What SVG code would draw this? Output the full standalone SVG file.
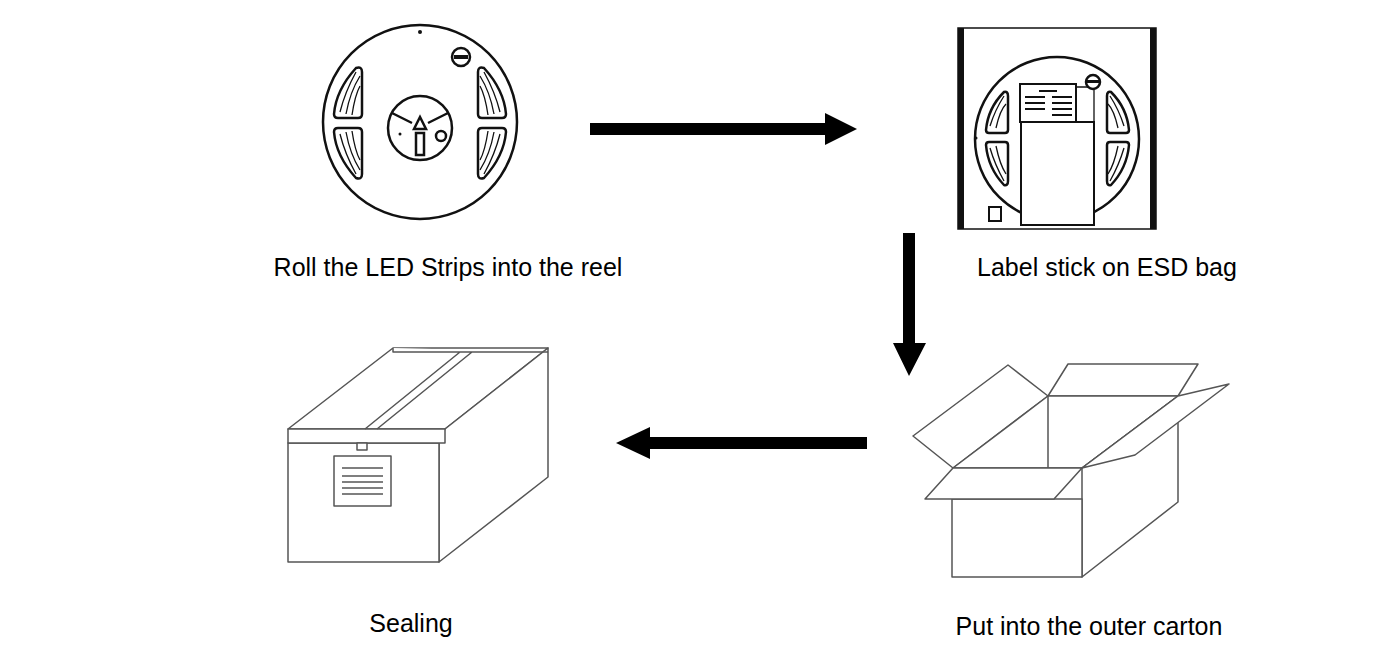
<svg xmlns="http://www.w3.org/2000/svg" width="1398" height="655" viewBox="0 0 1398 655">
<style>
.l{fill:none;stroke:#111;stroke-width:2.5}
.g{fill:#fff;stroke:#555;stroke-width:1.5;stroke-linejoin:round}
.t{font-family:"Liberation Sans",Arial,sans-serif;font-size:25px;fill:#000;text-anchor:middle}
.w{fill:#fff;stroke:#111;stroke-width:2.5}
.s{fill:none;stroke:#111;stroke-width:1.3}
</style>
<rect width="1398" height="655" fill="#fff"/>
<g id="reel">
<circle cx="420" cy="122" r="97" class="l"/>
<circle cx="420" cy="32" r="2" fill="#111"/>
<circle cx="461" cy="57" r="9" class="l"/>
<rect x="454" y="55" width="14" height="4" fill="#111"/>
<path class="w" d="M334,114 Q336,90 356,68 Q362,66 362,72 V114 Q362,118 358,118 H338 Q334,118 334,114 Z"/>
<path class="s" d="M340,112 Q345,92 356,72 M346,114 Q350,92 360,76 M352,115 Q355,95 360,86"/>
<path class="w" d="M334,132 Q336,156 356,178 Q362,180 362,174 V132 Q362,128 358,128 H338 Q334,128 334,132 Z"/>
<path class="s" d="M340,134 Q345,154 356,174 M346,132 Q350,154 360,170 M352,131 Q355,151 360,160"/>
<path class="w" d="M506,114 Q504,90 484,68 Q478,66 478,72 V114 Q478,118 482,118 H502 Q506,118 506,114 Z"/>
<path class="s" d="M500,112 Q495,92 484,72 M494,114 Q490,92 480,76 M488,115 Q485,95 480,86"/>
<path class="w" d="M506,132 Q504,156 484,178 Q478,180 478,174 V132 Q478,128 482,128 H502 Q506,128 506,132 Z"/>
<path class="s" d="M500,134 Q495,154 484,174 M494,132 Q490,154 480,170 M488,131 Q485,151 480,160"/>
<circle cx="420" cy="128" r="32" class="l"/>
<path class="l" d="M392,113 L412,123 M448,113 L428,123"/>
<path class="l" d="M414,129 L420,117 L426,129 Z"/>
<rect x="416" y="133" width="8" height="22" class="w"/>
<circle cx="441" cy="136" r="5" class="l"/>
<circle cx="400" cy="134" r="1.5" fill="#111"/>
</g>
<g id="bag">
<rect x="958" y="28" width="198" height="201" fill="#fff" stroke="#111" stroke-width="1.5"/>
<rect x="958" y="28" width="6" height="201" fill="#111"/>
<rect x="1150" y="28" width="6" height="201" fill="#111"/>
<circle cx="1057" cy="139" r="82" class="l"/>
<circle cx="976" cy="138" r="1.5" fill="#111"/>
<path class="w" d="M986,130 Q988,108 1004,92 Q1008,91 1008,96 V130 Q1008,133 1005,133 H989 Q986,133 986,130 Z"/>
<path class="w" d="M986,145 Q988,168 1004,185 Q1008,186 1008,181 V145 Q1008,142 1005,142 H989 Q986,142 986,145 Z"/>
<path class="w" d="M1129,130 Q1127,108 1111,92 Q1107,91 1107,96 V130 Q1107,133 1110,133 H1126 Q1129,133 1129,130 Z"/>
<path class="w" d="M1129,145 Q1127,168 1111,185 Q1107,186 1107,181 V145 Q1107,142 1110,142 H1126 Q1129,142 1129,145 Z"/>
<path class="s" d="M990,126 Q995,110 1004,96 M996,128 Q1000,110 1006,104 M990,148 Q995,165 1004,181 M996,146 Q1000,165 1006,174 M1124,126 Q1119,110 1110,96 M1118,128 Q1114,110 1108,104 M1124,148 Q1119,165 1110,181 M1118,146 Q1114,165 1108,174"/>
<rect x="1021" y="122" width="73" height="103" fill="#fff" stroke="#111" stroke-width="2"/>
<rect x="1020" y="84" width="56" height="38" fill="#fff" stroke="#111" stroke-width="2"/>
<path stroke="#111" stroke-width="2" d="M1039,91 H1057 M1025,97 H1045 M1052,97 H1072 M1025,103 H1045 M1052,103 H1072 M1025,109 H1045 M1052,109 H1072 M1052,115 H1072"/>
<path class="s" d="M1076,87 H1088 M1094,89 V122"/>
<circle cx="1093" cy="82" r="7" class="w"/>
<rect x="1087" y="80" width="12" height="3" fill="#111"/>
<rect x="989" y="207" width="12" height="14" fill="none" stroke="#111" stroke-width="2"/>
</g>
<g id="sealing">
<path class="g" d="M288,429 L393,348 H548 L445,429 Z"/>
<path class="g" d="M445,429 L548,348 V477 L439,562 V443 Z"/>
<rect class="g" x="288" y="443" width="151" height="119"/>
<rect class="g" x="288" y="429" width="157" height="14"/>
<path class="g" d="M365,429 L460,352 M377,429 L472,352 M393,348 V352 H548"/>
<rect class="g" x="357" y="443" width="10" height="7"/>
<rect class="g" x="334" y="456" width="57" height="50"/>
<path stroke="#555" stroke-width="1.5" d="M342,468 H383 M342,476 H383 M342,482 H383 M342,488 H383 M342,494 H383"/>
</g>
<g id="carton">
<path class="g" d="M1048,396 L1068,364 H1198 L1178,396 Z"/>
<path class="g" d="M953,468 L913,436 L1008,365 L1048,396 Z"/>
<path class="g" d="M953,468 L1048,396 H1178 L1082,468 Z"/>
<path class="g" d="M1048,396 V468"/>
<path class="g" d="M1082,468 L1178,396 V502 L1082,577 Z"/>
<path class="g" d="M1082,468 L1178,396 L1229,384 L1135,455 Z"/>
<rect class="g" x="952" y="499" width="130" height="78"/>
<path class="g" d="M925,499 L953,468 H1082 L1054,499 Z"/>
</g>
<g id="connectors" fill="#000">
<path d="M590,123 H825 V113 L857,129 L825,145 V135 H590 Z"/>
<path d="M903,233 H915 V343 H926 L909,376 L893,343 H903 Z"/>
<path d="M867,437 H650 V427 L616,443 L650,459 V449 H867 Z"/>
</g>
<text class="t" x="448" y="276">Roll the LED Strips into the reel</text>
<text class="t" x="1107" y="276">Label stick on ESD bag</text>
<text class="t" x="411" y="632">Sealing</text>
<text class="t" x="1089" y="635">Put into the outer carton</text>
</svg>
